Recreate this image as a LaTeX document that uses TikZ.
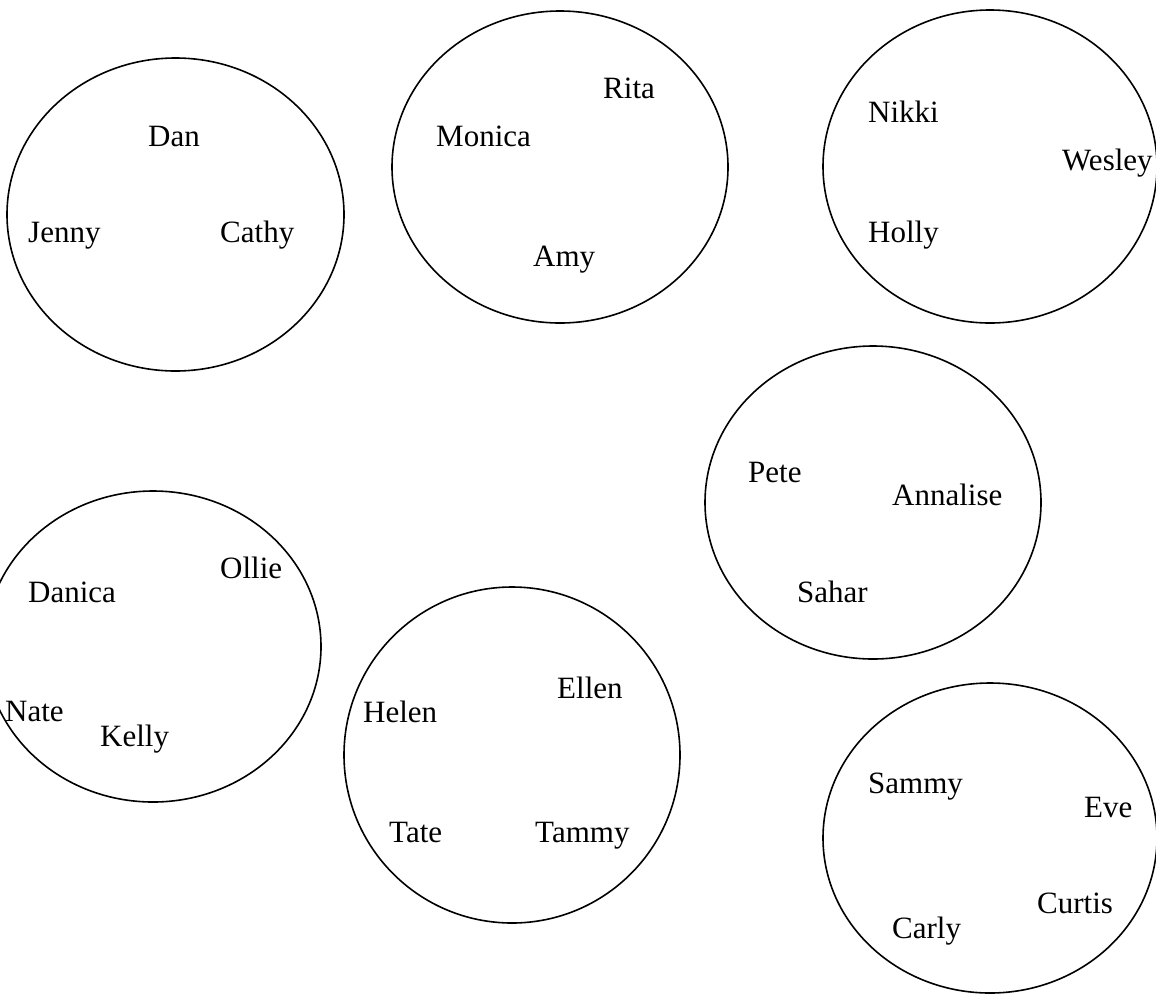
\documentclass[tikz,border=0pt]{standalone}
\usepackage{fontspec}
\setmainfont{Liberation Serif}
\begin{document}
\begin{tikzpicture}[x=1pt,y=-1pt,
  grp/.style={draw=black,line width=1.6pt},
  nm/.style={anchor=base west,inner sep=0pt,font=\fontsize{31}{36}\selectfont}]
\useasboundingbox (0,0) rectangle (1156,994);
\begin{scope}
\clip (0,0) rectangle (1156,994);
\draw[grp] (175.5,214.5) ellipse [x radius=168.5pt, y radius=156.5pt];
\draw[grp] (560,167) ellipse [x radius=168pt, y radius=156pt];
\draw[grp] (990,166.5) ellipse [x radius=167pt, y radius=156.5pt];
\draw[grp] (873,502.5) ellipse [x radius=168pt, y radius=156.5pt];
\draw[grp] (153,646.5) ellipse [x radius=168pt, y radius=155.5pt];
\draw[grp] (512,755) ellipse [x radius=168pt, y radius=168pt];
\draw[grp] (990,838) ellipse [x radius=167pt, y radius=155pt];
\end{scope}
\node[nm] (dan) at (148,146) {Dan};
\node[nm] (jenny) at (28,242) {Jenny};
\node[nm] (cathy) at (220,242) {Cathy};
\node[nm] (rita) at (603,98) {Rita};
\node[nm] (monica) at (436,146) {Monica};
\node[nm] (amy) at (533,266) {Amy};
\node[nm] (nikki) at (868,122) {Nikki};
\node[nm] (wesley) at (1062,170) {Wesley};
\node[nm] (holly) at (868,242) {Holly};
\node[nm] (pete) at (748,482) {Pete};
\node[nm] (annalise) at (892,505) {Annalise};
\node[nm] (sahar) at (797,602) {Sahar};
\node[nm] (danica) at (28,602) {Danica};
\node[nm] (ollie) at (220,578) {Ollie};
\node[nm] (nate) at (5,721) {Nate};
\node[nm] (kelly) at (100,746) {Kelly};
\node[nm] (helen) at (363,722) {Helen};
\node[nm] (ellen) at (557,698) {Ellen};
\node[nm] (tate) at (389,842) {Tate};
\node[nm] (tammy) at (535,842) {Tammy};
\node[nm] (sammy) at (868,793) {Sammy};
\node[nm] (eve) at (1084,817) {Eve};
\node[nm] (curtis) at (1037,913) {Curtis};
\node[nm] (carly) at (892,938) {Carly};
\end{tikzpicture}
\end{document}
